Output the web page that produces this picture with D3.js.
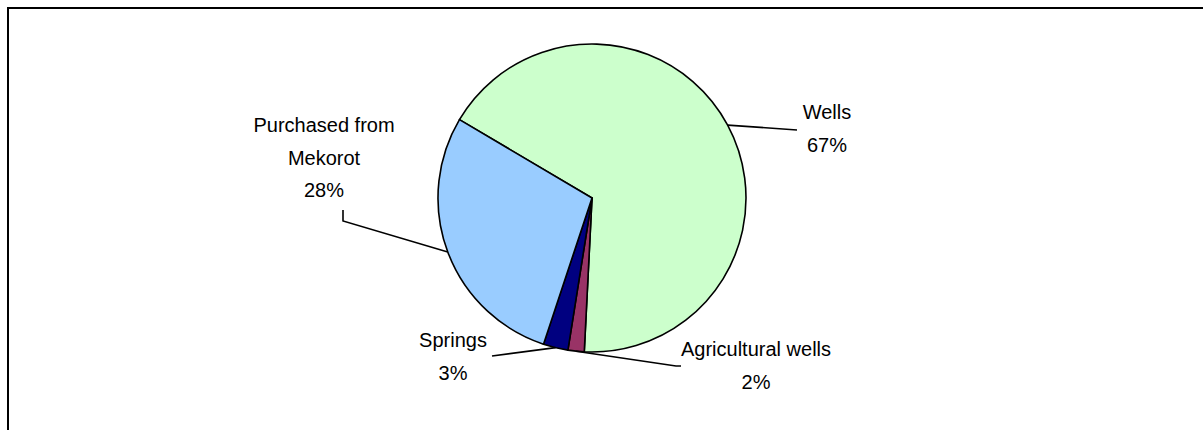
<!DOCTYPE html>
<html>
<head>
<meta charset="utf-8">
<script src="https://cdn.jsdelivr.net/npm/d3@7"></script>
<style>
  html, body { margin: 0; padding: 0; background: #fff; overflow: hidden; }
  svg { display: block; overflow: hidden; }
  text { font-family: "Liberation Sans", Arial, sans-serif; font-size: 20px; fill: #000; }
</style>
</head>
<body>
<svg id="chart" width="1203" height="430"></svg>
<script>
// Sources of the water supply, share of total (%)
const categories = ["Wells", "Agricultural wells", "Springs", "Purchased from Mekorot"];
const labelLines = [["Wells"], ["Agricultural wells"], ["Springs"], ["Purchased from", "Mekorot"]];
const shares = [67.3, 1.7, 2.6, 28.4];
const colors = ["#CCFFCC", "#993366", "#000080", "#99CCFF"];

const W = 1203, H = 430;
const cx = 592, cy = 198, R = 154;
const firstSliceAngle = -59.4; // degrees, clockwise from 12 o'clock

const svg = d3.select("#chart");

// chart area frame (right and bottom edges run past the page)
svg.append("rect")
  .attr("x", 8).attr("y", 8)
  .attr("width", W + 20).attr("height", H + 20)
  .attr("fill", "#fff").attr("stroke", "#000").attr("stroke-width", 2);

const data = categories.map((c, i) => ({ name: c, value: shares[i], lines: labelLines[i], color: colors[i] }));

const start = firstSliceAngle * Math.PI / 180;
const pie = d3.pie().sort(null).value(d => d.value)
  .startAngle(start).endAngle(start + 2 * Math.PI);
const arcs = pie(data);
const arc = d3.arc().innerRadius(0).outerRadius(R);

const g = svg.append("g").attr("transform", `translate(${cx},${cy})`);

g.selectAll("path.slice")
  .data(arcs)
  .join("path")
  .attr("class", "slice")
  .attr("d", arc)
  .attr("fill", d => d.data.color)
  .attr("stroke", "#000")
  .attr("stroke-width", 1.6)
  .attr("stroke-linejoin", "round");

// data label placement, relative to the pie centre:
// leader route (after the point on the rim), text centre x and first baseline
const labelLayout = {
  "Wells":                  { route: [[205, -68]], tx: 235, ty: -79 },
  "Agricultural wells":     { route: [[84, 168], [89, 168]], tx: 164, ty: 158 },
  "Springs":                { route: [[-100, 158]], tx: -139, ty: 149 },
  "Purchased from Mekorot": { route: [[-249, 23], [-249, 12]], tx: -268, ty: -66 }
};

const pct = d3.format(".0f");
const lineStep = 32.5;

arcs.forEach(a => {
  const mid = (a.startAngle + a.endAngle) / 2;
  const rim = [R * Math.sin(mid), -R * Math.cos(mid)];
  const lay = labelLayout[a.data.name];

  g.append("path")
    .attr("d", d3.line()([rim, ...lay.route]))
    .attr("fill", "none")
    .attr("stroke", "#000")
    .attr("stroke-width", 1.6);

  const lines = [...a.data.lines, pct(a.data.value) + "%"];
  const t = g.append("text")
    .attr("text-anchor", "middle");
  lines.forEach((s, i) => {
    t.append("tspan")
      .attr("x", lay.tx)
      .attr("y", lay.ty + i * lineStep)
      .text(s);
  });
});
</script>
</body>
</html>
